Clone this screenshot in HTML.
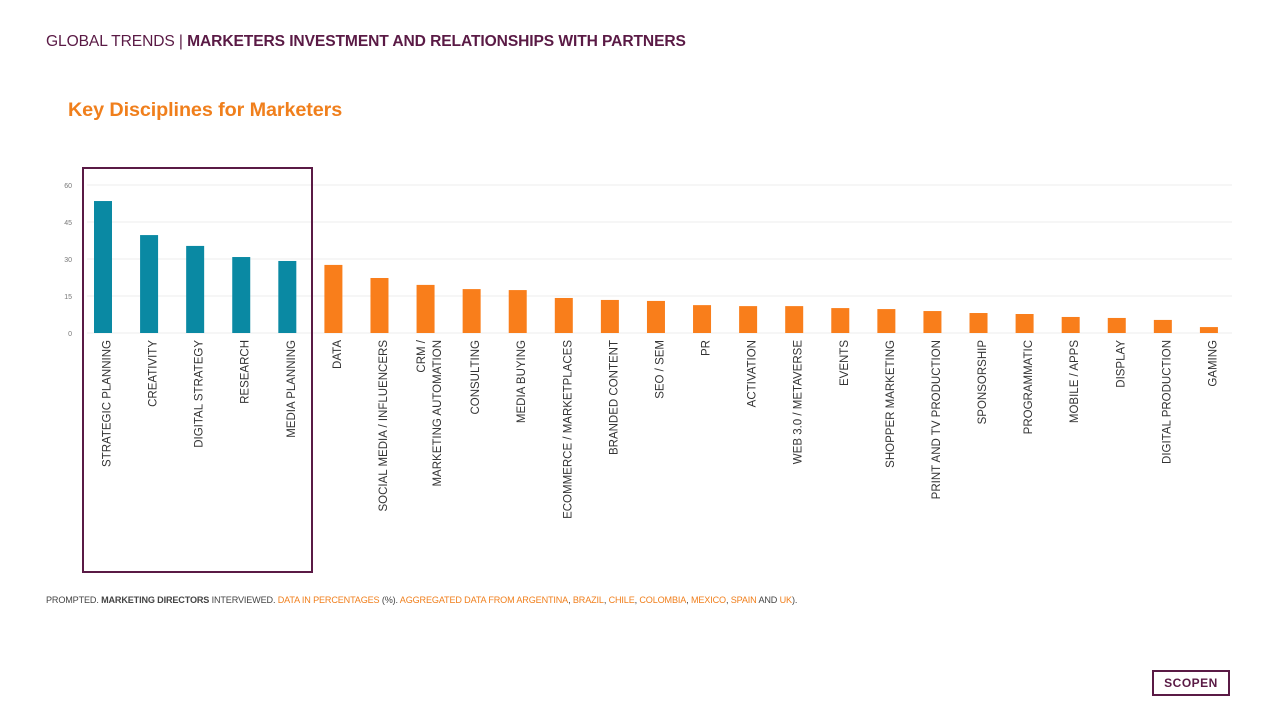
<!DOCTYPE html>
<html><head><meta charset="utf-8"><style>
body{margin:0;width:1280px;height:720px;background:#fff;position:relative;overflow:hidden;font-family:"Liberation Sans",sans-serif;}
.abs{position:absolute;white-space:nowrap;}
</style></head><body>
<div class="abs" style="left:46px;top:33px;font-size:15.6px;color:#5a1a45;letter-spacing:-0.1px">GLOBAL TRENDS | <b>MARKETERS INVESTMENT AND RELATIONSHIPS WITH PARTNERS</b></div>
<div class="abs" style="left:68px;top:99px;font-size:19.8px;font-weight:bold;color:#f07f1c;letter-spacing:-0.1px">Key Disciplines for Marketers</div>
<svg class="abs" style="left:0;top:0" width="1280" height="600" id="chart"></svg>
<div class="abs" style="left:46px;top:595px;font-size:9.1px;color:#444;letter-spacing:-0.15px">PROMPTED. <b>MARKETING DIRECTORS</b> INTERVIEWED. <span style="color:#f07f1c">DATA IN PERCENTAGES</span> (%). <span style="color:#f07f1c">AGGREGATED DATA FROM ARGENTINA</span>, <span style="color:#f07f1c">BRAZIL</span>, <span style="color:#f07f1c">CHILE</span>, <span style="color:#f07f1c">COLOMBIA</span>, <span style="color:#f07f1c">MEXICO</span>, <span style="color:#f07f1c">SPAIN</span> AND <span style="color:#f07f1c">UK</span>).</div>
<div class="abs" style="left:1152px;top:670px;width:74px;height:22px;border:2px solid #5a1a45;text-align:center;font-size:12px;font-weight:bold;line-height:22px;color:#5a1a45;letter-spacing:0.5px">SCOPEN</div>
<script>
const categories=["STRATEGIC PLANNING","CREATIVITY","DIGITAL STRATEGY","RESEARCH","MEDIA PLANNING","DATA","SOCIAL MEDIA / INFLUENCERS","CRM /|MARKETING AUTOMATION","CONSULTING","MEDIA BUYING","ECOMMERCE / MARKETPLACES","BRANDED CONTENT","SEO / SEM","PR","ACTIVATION","WEB 3.0 / METAVERSE","EVENTS","SHOPPER MARKETING","PRINT AND TV PRODUCTION","SPONSORSHIP","PROGRAMMATIC","MOBILE / APPS","DISPLAY","DIGITAL PRODUCTION","GAMING"];
const values=[53.5,39.7,35.3,30.8,29.2,27.6,22.3,19.5,17.8,17.4,14.2,13.4,13.0,11.3,10.9,10.9,10.1,9.7,8.9,8.1,7.7,6.5,6.1,5.3,2.4];
const highlighted=[1,1,1,1,1,0,0,0,0,0,0,0,0,0,0,0,0,0,0,0,0,0,0,0,0];
const ticks=[0,15,30,45,60];
const svg=document.getElementById('chart');const NS='http://www.w3.org/2000/svg';
const y0=333,y60=185,xL=87,xR=1232,x0=103,step=46.08;
const y=v=>y0-(v/60)*(y0-y60);const x=i=>x0+step*i;
function mk(t,a){const e=document.createElementNS(NS,t);for(const k in a)e.setAttribute(k,a[k]);svg.appendChild(e);return e;}
ticks.forEach(t=>{const l=mk('line',{x1:xL,x2:xR,y1:y(t),y2:y(t),stroke:'#eee','stroke-width':1});


const tx=mk('text',{x:72,y:y(t)+3,'text-anchor':'end','font-size':7,fill:'#777','font-family':'Liberation Sans'});tx.textContent=t;

});
categories.forEach((c,i)=>{const r=mk('rect',{x:x(i)-9,y:y(values[i]),width:18,height:y0-y(values[i]),fill:highlighted[i]?'#0a89a3':'#f97e1b'});


const lines=c.split('|');
lines.forEach((ln,j)=>{const cx=x(i)+7.5+(j-(lines.length-1)/2)*16;const t=mk('text',{x:0,y:0,transform:`translate(${cx},340) rotate(-90)`,'text-anchor':'end','font-size':11.5,fill:'#333','font-family':'Liberation Sans'});t.textContent=ln;

});});
const b=mk('rect',{x:83,y:168,width:229,height:404,fill:'none',stroke:'#5a1a45','stroke-width':2});


</script>
</body></html>
